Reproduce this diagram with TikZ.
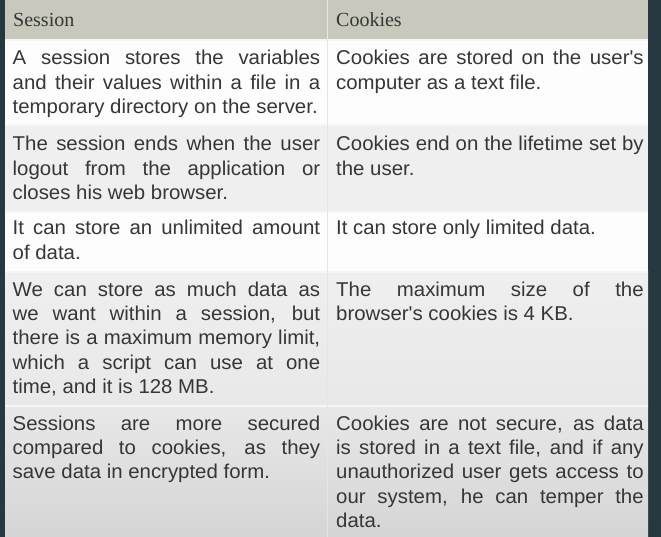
\documentclass[tikz,border=0pt]{standalone}
\usepackage{fontspec}
\newfontfamily\cellfont[FakeStretch=1.02]{Liberation Sans}
\newfontfamily\headfont{Liberation Serif}
\definecolor{frame}{HTML}{263840}
\definecolor{headgray}{HTML}{C8C9BC}
\definecolor{rowgray}{HTML}{EFEFEF}
\definecolor{rowwhite}{HTML}{FDFDFD}
\definecolor{celltext}{HTML}{363636}
\definecolor{rule}{HTML}{F6F6F6}
\tolerance=10000
\hbadness=10000
\hyphenpenalty=10000

\begin{document}
\begin{tikzpicture}[x=1pt,y=-1pt,
    cell/.style={anchor=base west, inner sep=0pt, text width=307.5pt, align=justify,
        font=\cellfont\fontsize{20}{24.4}\selectfont, text=celltext},
    head/.style={anchor=base west, inner sep=0pt,
        font=\headfont\fontsize{20}{24}\selectfont, text=celltext}]
\useasboundingbox (0,0) rectangle (661,537);
% dark frame behind the table
\fill[frame] (0,0) rectangle (661,537);
% row backgrounds
\fill[headgray] (5,0) rectangle (648,40);
\fill[rowwhite] (5,40) rectangle (648,125);
\fill[rowgray] (5,125) rectangle (648,212);
\fill[rowwhite] (5,212) rectangle (648,272);
\shade[top color=rowgray, bottom color=gray!18] (5,272) rectangle (648,406);
\shade[top color=gray!18, bottom color=gray!33] (5,406) rectangle (648,537);
% row and column rules
\foreach \y in {40,125,212,272,406}
    \draw[rule, line width=1.5pt] (5,\y) -- (648,\y);
\draw[gray!20, line width=1pt] (327,0) -- (327,537);

% header
\node[head] (hs) at (13,27) {Session};
\node[head] (hc) at (336,27) {Cookies};

% Session column
\node[cell] (s1) at (12.5,65) {A session stores the variables\linebreak and their values within a file in a\linebreak temporary directory on the server.};
\node[cell] (s2) at (12.5,150.7) {The session ends when the user\linebreak logout from the application or\linebreak closes his web browser.};
\node[cell] (s3) at (12.5,235) {It can store an unlimited amount\linebreak of data.};
\node[cell] (s4) at (12.5,296) {We can store as much data as\linebreak we want within a session, but\linebreak there is a maximum memory limit,\linebreak which a script can use at one\linebreak time, and it is 128 MB.};
\node[cell] (s5) at (12.5,430) {Sessions are more secured\linebreak compared to cookies, as they\linebreak save data in encrypted form.};

% Cookies column
\node[cell] (c1) at (336,65) {Cookies are stored on the user's\linebreak computer as a text file.};
\node[cell] (c2) at (336,150.7) {Cookies end on the lifetime set by\linebreak the user.};
\node[cell] (c3) at (336,235) {It can store only limited data.};
\node[cell] (c4) at (336,296) {The maximum size of the\linebreak browser's cookies is 4 KB.};
\node[cell] (c5) at (336,430) {Cookies are not secure, as data\linebreak is stored in a text file, and if any\linebreak unauthorized user gets access to\linebreak our system, he can temper the\linebreak data.};
\end{tikzpicture}
\end{document}
